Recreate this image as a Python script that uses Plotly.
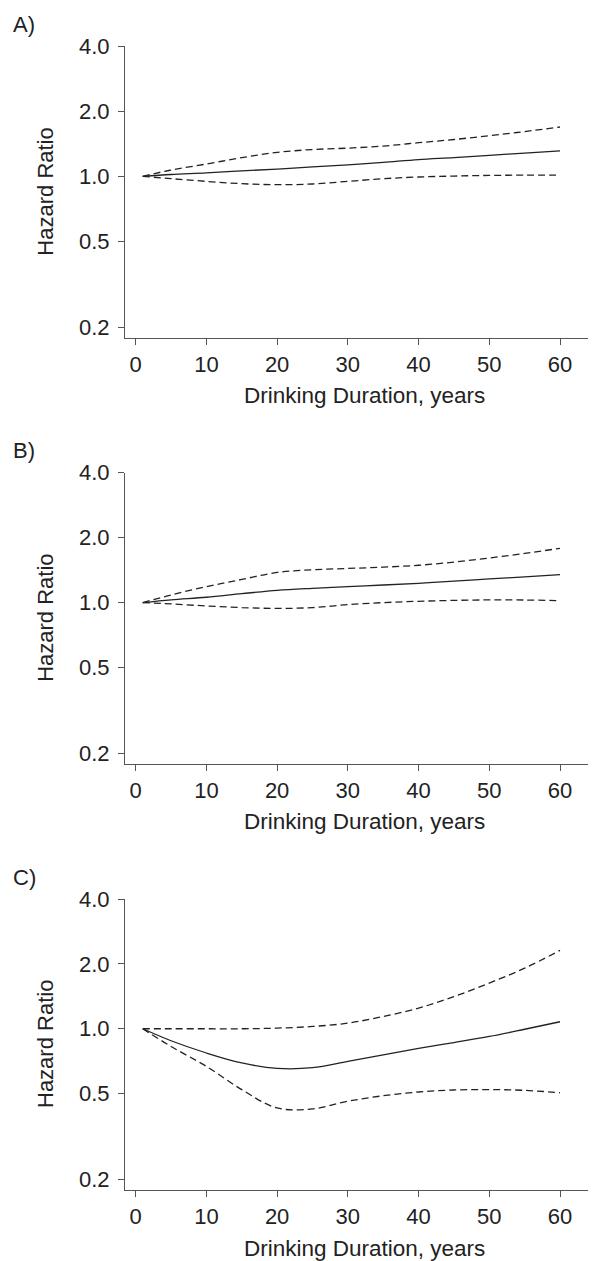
import plotly.graph_objects as go

# Drinking duration (years)
duration = [1, 5, 10, 15, 20, 25, 30, 35, 40, 45, 50, 55, 60]

# Panel A
hr_a = [1.00, 1.02, 1.037, 1.06, 1.08, 1.105, 1.13, 1.16, 1.195, 1.22, 1.25, 1.28, 1.31]
hi_a = [1.00, 1.07, 1.14, 1.22, 1.29, 1.33, 1.35, 1.38, 1.43, 1.48, 1.54, 1.61, 1.69]
lo_a = [1.00, 0.976, 0.948, 0.925, 0.915, 0.922, 0.948, 0.975, 0.993, 1.003, 1.01, 1.013, 1.014]

# Panel B
hr_b = [1.00, 1.03, 1.059, 1.10, 1.14, 1.165, 1.186, 1.207, 1.229, 1.257, 1.287, 1.317, 1.348]
hi_b = [1.00, 1.085, 1.186, 1.28, 1.38, 1.42, 1.44, 1.46, 1.49, 1.54, 1.61, 1.69, 1.785]
lo_b = [1.00, 0.986, 0.965, 0.948, 0.94, 0.948, 0.979, 1.0, 1.014, 1.024, 1.029, 1.028, 1.021]

# Panel C
hr_c = [1.00, 0.88, 0.772, 0.694, 0.655, 0.66, 0.706, 0.757, 0.811, 0.863, 0.921, 0.995, 1.078]
hi_c = [1.00, 1.0, 1.0, 1.0, 1.007, 1.025, 1.062, 1.14, 1.247, 1.41, 1.63, 1.91, 2.31]
lo_c = [1.00, 0.828, 0.669, 0.522, 0.429, 0.425, 0.461, 0.489, 0.509, 0.52, 0.522, 0.518, 0.505]

panel_labels = ["A)", "B)", "C)"]
y_tickvals = [0.2, 0.5, 1.0, 2.0, 4.0]
y_ticktext = ["0.2", "0.5", "1.0", "2.0", "4.0"]
x_tickvals = [0, 10, 20, 30, 40, 50, 60]
x_title = "Drinking Duration, years"
y_title = "Hazard Ratio"

OFF = 8  # page body margin of the rendered html
W, H = 596 - OFF, 1261 - OFF
FONT = "Liberation Sans, Arial, Helvetica, sans-serif"
TXT = "#222222"
AX = "#555555"
LINE = "#222222"
FS = 22

# pixel geometry (in window coordinates) for each panel: (top of y-axis, x-axis line)
panels_px = [(46.0, 338.3), (472.7, 764.0), (899.0, 1190.0)]
title_gap = [57.5, 57.0, 58.0]
x_left_px = 125.0


def px_x(p):
    return (p - OFF) / W


def px_y(p):
    return 1 - (p - OFF) / H


fig = go.Figure()
series = [(hr_a, hi_a, lo_a), (hr_b, hi_b, lo_b), (hr_c, hi_c, lo_c)]

annotations = []
for i, ((hr, hi, lo), (top, bot)) in enumerate(zip(series, panels_px)):
    n = "" if i == 0 else str(i + 1)
    xa, ya = "x" + n, "y" + n
    for vals, dash in [(hi, "7px,4px"), (lo, "7px,4px"), (hr, "solid")]:
        fig.add_trace(go.Scatter(
            x=duration, y=vals, xaxis=xa, yaxis=ya, mode="lines",
            line=dict(color=LINE, width=1.3, dash=dash, shape="spline", smoothing=1.0),
            showlegend=False, hoverinfo="skip"))
    ydom = [px_y(bot), px_y(top)]
    common_font = dict(family=FONT, size=FS, color=TXT)
    fig.update_layout({
        ("xaxis" + n): dict(
            domain=[px_x(x_left_px), 1.0], anchor=ya, range=[-1.51, 65.09],
            tickvals=x_tickvals, ticks="outside", ticklen=6, tickwidth=1, tickcolor=AX,
            showline=True, linecolor=AX, linewidth=1.2, showgrid=False, zeroline=False,
            tickfont=common_font, ticklabelstandoff=0, automargin=False),
        ("yaxis" + n): dict(
            domain=ydom, anchor=xa, type="log", range=[-0.748, 0.60206],
            tickvals=y_tickvals, ticktext=y_ticktext, ticks="outside", ticklen=6,
            tickwidth=1, tickcolor=AX, showline=True, linecolor=AX, linewidth=1.2,
            showgrid=False, zeroline=False, tickfont=common_font, ticklabelstandoff=4,
            automargin=False),
    })
    # panel letter
    annotations.append(dict(text=panel_labels[i], x=px_x(11), y=px_y(top - 22),
                            xref="paper", yref="paper", xanchor="left", yanchor="middle",
                            showarrow=False, font=common_font))
    # y title
    annotations.append(dict(text=y_title, x=px_x(45.5), y=(ydom[0] + ydom[1]) / 2,
                            xref="paper", yref="paper", xanchor="center", yanchor="middle",
                            textangle=-90, showarrow=False, font=common_font))
    # x title
    annotations.append(dict(text=x_title, x=px_x((243 + 486) / 2), y=px_y(bot + title_gap[i]),
                            xref="paper", yref="paper", xanchor="center", yanchor="middle",
                            showarrow=False, font=dict(family=FONT, size=22.5, color=TXT)))

fig.update_layout(
    template="none",
    width=W, height=H, margin=dict(l=0, r=0, t=0, b=0, autoexpand=False),
    paper_bgcolor="white", plot_bgcolor="white",
    annotations=annotations, font=dict(family=FONT, color=TXT),
)

fig.write_html("out.html")
